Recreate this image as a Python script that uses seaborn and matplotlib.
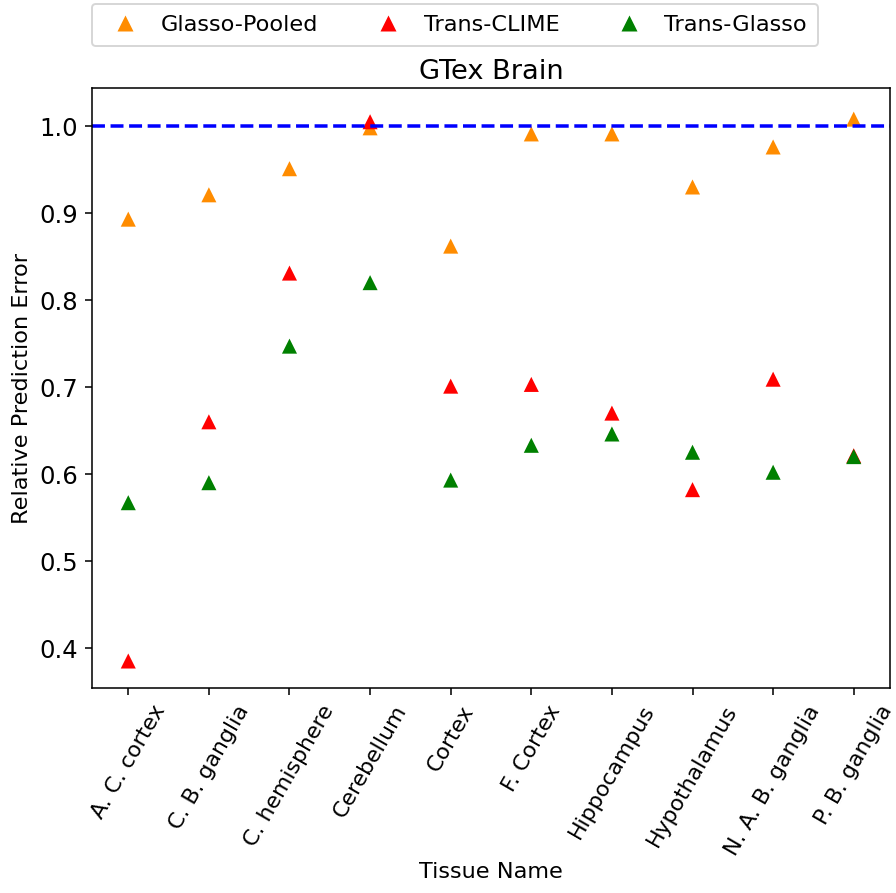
import seaborn as sns
import matplotlib.pyplot as plt
import pandas as pd

tissues = ['A. C. cortex', 'C. B. ganglia', 'C. hemisphere', 'Cerebellum', 'Cortex',
           'F. Cortex', 'Hippocampus', 'Hypothalamus', 'N. A. B. ganglia', 'P. B. ganglia']
glasso_pooled = [0.893, 0.921, 0.951, 0.998, 0.862, 0.991, 0.991, 0.930, 0.976, 1.008]
trans_clime = [0.385, 0.660, 0.831, 1.005, 0.701, 0.703, 0.670, 0.582, 0.709, 0.621]
trans_glasso = [0.567, 0.590, 0.747, 0.820, 0.593, 0.633, 0.646, 0.625, 0.602, 0.620]

methods = ['Glasso-Pooled', 'Trans-CLIME', 'Trans-Glasso']
colors = ['darkorange', 'red', 'green']

df = pd.DataFrame({
    'Tissue Name': tissues * 3,
    'Relative Prediction Error': glasso_pooled + trans_clime + trans_glasso,
    'Method': [m for m in methods for _ in tissues],
})

sns.set_style('ticks', {'text.color': 'black', 'axes.labelcolor': 'black',
                        'xtick.color': 'black', 'ytick.color': 'black',
                        'axes.edgecolor': 'black'})
plt.rcParams['font.family'] = ['DejaVu Sans']

fig = plt.figure(figsize=(6.4, 6.38), dpi=140)
ax = fig.add_axes([92/896, 1 - 688/893, (890 - 92)/896, (688 - 88)/893])

sns.scatterplot(data=df, x='Tissue Name', y='Relative Prediction Error', hue='Method',
                palette=colors, marker='^', s=60, edgecolor='none', ax=ax)
ax.axhline(1.0, color='blue', linestyle='--', linewidth=1.8)

ax.set_xlim(-0.45, 9.45)
ax.set_ylim(0.354, 1.044)
ax.set_yticks([0.4, 0.5, 0.6, 0.7, 0.8, 0.9, 1.0])
ax.set_title('GTex Brain', fontsize=14, pad=4.5)
ax.set_xlabel('Tissue Name', fontsize=11.5, labelpad=2)
ax.set_ylabel('Relative Prediction Error', fontsize=11.5)
ax.tick_params(axis='y', labelsize=12.5)
ax.tick_params(axis='x', labelsize=11.3)
plt.setp(ax.get_xticklabels(), rotation=60)

# 범례는 위쪽에
ax.get_legend().remove()
handles, labels = ax.get_legend_handles_labels()
fig.legend(handles, labels, loc='center', bbox_to_anchor=(455/896, 1 - 25/893),
           ncol=3, fontsize=11.5, columnspacing=2.1, handletextpad=0.6, borderpad=0.5)

fig.savefig('out.png', dpi=140)
